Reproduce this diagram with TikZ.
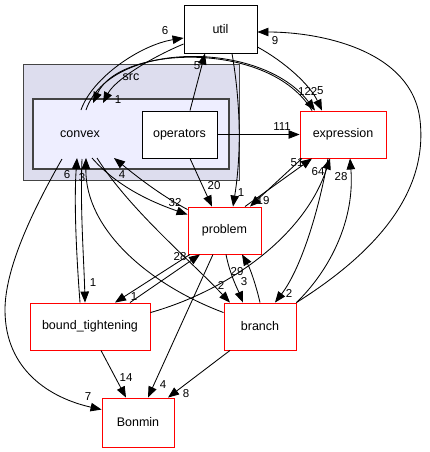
\documentclass[tikz,border=0pt]{standalone}
\usepackage{fontspec}
\setmainfont{Liberation Sans}
\usetikzlibrary{arrows.meta}
\definecolor{outerfill}{HTML}{DDDDEE}
\definecolor{innerfill}{HTML}{EEEEFF}
\definecolor{clborder}{HTML}{444444}
\begin{document}
\begin{tikzpicture}[x=1pt,y=-1pt,
  box/.style={draw=black,line width=0.9pt,fill=white,inner sep=0pt,font=\fontsize{12.5}{14}\selectfont},
  redbox/.style={box,draw=red},
  edge/.style={line width=0.85pt,-{Triangle[length=11pt,width=8.5pt]}},
  lbl/.style={font=\fontsize{11.5}{12}\selectfont,inner sep=0pt}]
\useasboundingbox (0,0) rectangle (430,452);
% clusters
\draw[clborder,line width=0.9pt,fill=outerfill] (23,64) rectangle (239,180);
\node[font=\fontsize{12.5}{14}\selectfont] (srclbl) at (131,77) {src};
\draw[clborder,line width=1.2pt,fill=innerfill] (33,99) rectangle (229,169);
\node[font=\fontsize{12.5}{14}\selectfont] (convexlbl) at (80,134) {convex};
% nodes
\node[box,minimum width=73pt,minimum height=48pt] (util) at (220.5,29) {util};
\node[box,minimum width=75pt,minimum height=47pt] (operators) at (179.5,134.5) {operators};
\node[redbox,minimum width=86pt,minimum height=47pt] (expression) at (343,134.5) {expression};
\node[redbox,minimum width=73pt,minimum height=47pt] (problem) at (224.5,230.5) {problem};
\node[redbox,minimum width=120pt,minimum height=47pt] (bt) at (90,326.5) {bound\_tightening};
\node[redbox,minimum width=72pt,minimum height=47pt] (branch) at (260,326.5) {branch};
\node[redbox,minimum width=72pt,minimum height=49pt] (Bonmin) at (138,422.5) {Bonmin};
% convex cluster anchor points
\coordinate (cA) at (81,110);
\coordinate (cB) at (103,103);
\coordinate (cC) at (93,103);
\coordinate (cD) at (86,110);
\coordinate (cE) at (62,159);
\coordinate (cF) at (77,158);
\coordinate (cG) at (82,159);
\coordinate (cH) at (86,158);
\coordinate (cI) at (114,158);
\coordinate (cJ) at (92,158);
\coordinate (cK) at (97,158);
% edges around convex top
\draw[edge] (cA) .. controls (92,78) and (140,45) .. ([yshift=-9pt]util.west);
\node[lbl] (l6a) at (165,31) {6};
\draw[edge] ([yshift=-15pt]util.west) .. controls (150,58) and (115,80) .. (cB);
\node[lbl] (l1a) at (118,100) {1};
\draw[edge] ([xshift=-31pt]expression.north) .. controls (270,40) and (120,45) .. (cC);
\draw[edge] (cD) .. controls (110,40) and (262,40) .. ([xshift=-28pt]expression.north);
\draw[edge] ([yshift=-18pt]util.east) .. controls (285,62) and (310,85) .. ([xshift=-21pt]expression.north);
\node[lbl,anchor=west] (l122) at (298,91) {122};
\node[lbl,anchor=west] (l5b) at (317,91) {5};
\draw[edge] ([xshift=10.5pt]operators.north) -- ([xshift=-15.5pt]util.south);
\node[lbl] (l5a) at (197,66) {5};
\draw[edge] ([xshift=11.5pt]util.south) .. controls (240,100) and (242,150) .. ([xshift=8.5pt]problem.north);
\node[lbl] (l1b) at (241,193) {1};
\draw[edge] ([xshift=10.5pt]operators.south) -- ([xshift=-12.5pt]problem.north);
\node[lbl] (l20) at (214,186) {20};
\draw[edge] (operators.east) -- (expression.west);
\node[lbl] (l111) at (282,127) {111};
\draw[edge] (branch.north east) .. controls (380,250) and (428,190) .. (420,120) .. controls (412,50) and (320,32) .. ([yshift=-3pt]util.east);
\node[lbl] (l9) at (275,41) {9};
% edges below convex
\draw[edge] (cE) .. controls (30,215) and (5,270) .. (5,310) .. controls (5,370) and (50,398) .. ([yshift=-12pt]Bonmin.north west);
\node[lbl] (l7) at (88,397) {7};
\draw[edge] ([xshift=-10pt]bt.north) .. controls (76,250) and (74,200) .. (cF);
\node[lbl] (l6b) at (67,175) {6};
\draw[edge] (cG) .. controls (80,210) and (84,260) .. ([xshift=-5pt]bt.north);
\node[lbl] (l1c) at (93,283) {1};
\draw[edge] ([yshift=-10pt]branch.north west) .. controls (150,285) and (85,230) .. (cH);
\node[lbl] (l3a) at (82,178) {3};
\draw[edge] ([yshift=-3pt]problem.north west) .. controls (160,195) and (135,175) .. (cI);
\node[lbl] (l4a) at (122,175) {4};
\draw[edge] (cJ) .. controls (120,190) and (160,205) .. ([yshift=-8pt]problem.north west);
\node[lbl] (l32) at (175,203) {32};
\draw[edge] (cK) .. controls (130,210) and (190,260) .. ([xshift=-30pt]branch.north);
\node[lbl] (l2a) at (221,285) {2};
% problem edges
\draw[edge] ([xshift=-34.5pt]problem.south) -- ([xshift=25pt]bt.north);
\node[lbl] (l1d) at (134,297) {1};
\draw[edge] ([xshift=40pt]bt.north) -- ([xshift=-24.5pt]problem.south);
\node[lbl] (l28a) at (180,257) {28};
\draw[edge] ([xshift=-11.5pt]problem.south) -- ([xshift=10pt]Bonmin.north);
\node[lbl] (l4b) at (163,385) {4};
\draw[edge] ([xshift=1.5pt]problem.south) .. controls (230,275) and (238,290) .. ([xshift=-17pt]branch.north);
\node[lbl] (l3b) at (244,282) {3};
\draw[edge] (branch.north) .. controls (256,285) and (250,268) .. ([xshift=17.5pt]problem.south);
\node[lbl] (l29) at (237,272) {29};
\draw[edge] ([xshift=20.5pt]problem.north) -- ([xshift=-31pt]expression.south);
\node[lbl] (l51) at (297,163) {51};
\draw[edge] ([xshift=-41pt]expression.south) -- ([xshift=25.5pt]problem.north);
\node[lbl] (l19) at (263,201) {19};
% expression lower edges
\draw[edge] ([yshift=-10pt]bt.north east) .. controls (230,290) and (305,235) .. ([xshift=-13pt]expression.south);
\node[lbl] (l64) at (318,172) {64};
\draw[edge] ([xshift=-15pt]expression.south) .. controls (318,215) and (300,270) .. ([xshift=15pt]branch.north);
\node[lbl] (l2b) at (289,293) {2};
\draw[edge] (branch.north east) .. controls (330,270) and (355,220) .. ([xshift=7pt]expression.south);
\node[lbl] (l28b) at (341,177) {28};
% Bonmin edges
\draw[edge] ([xshift=11pt]bt.south) -- ([xshift=-12pt]Bonmin.north);
\node[lbl] (l14) at (126,378) {14};
\draw[edge] ([xshift=-30pt]branch.south) -- ([xshift=30pt]Bonmin.north);
\node[lbl] (l8) at (186,394) {8};
\end{tikzpicture}
\end{document}
